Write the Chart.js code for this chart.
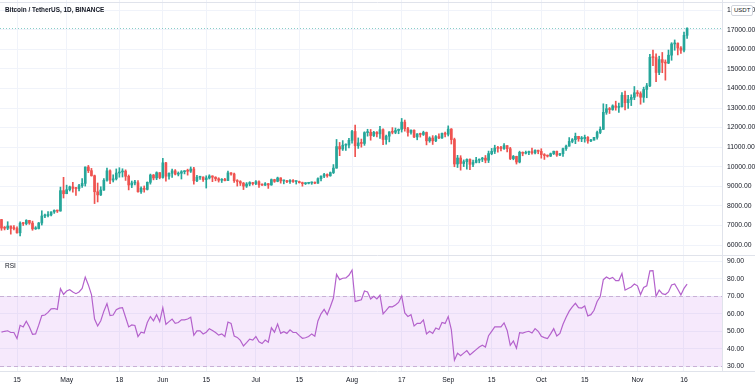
<!DOCTYPE html>
<html><head><meta charset="utf-8">
<script src="https://cdn.jsdelivr.net/npm/chart.js@4.4.0/dist/chart.umd.min.js"></script>
<style>
html,body{margin:0;padding:0;background:#fff;width:755px;height:390px;overflow:hidden}
#p{position:absolute;left:0;top:0;width:755px;height:256px}
#r{position:absolute;left:0;top:256px;width:755px;height:134px}
#title{position:absolute;left:5px;top:6px;font:bold 6.4px 'Liberation Sans',Arial,sans-serif;color:#131722;white-space:nowrap}
#rsiLbl{position:absolute;left:5px;top:262px;font:6.5px 'Liberation Sans',Arial,sans-serif;color:#131722}
#usdt{position:absolute;left:731px;top:5px;padding:1px 2px;background:#fff;border:1px solid #d1d4dc;border-radius:2px;font:6px 'Liberation Sans',Arial,sans-serif;color:#131722;line-height:7px}
</style></head><body>
<div id="p"><canvas id="cp"></canvas></div>
<div id="r"><canvas id="cr"></canvas></div>
<div id="title">Bitcoin / TetherUS, 1D, BINANCE</div>
<div id="rsiLbl">RSI</div>
<div id="usdt">USDT</div>
<script>
// Daily candles from 2020-04-10 (index 0) to 2020-11-17 (index 221)
const open = [7302,6865,6859,6971,6845,6842,6623,7116,7096,7257,7121,6826,6841,7125,7482,7505,7538,7693,7774,7738,
8778,8620,8826,8972,8894,8885,9031,9149,9986,9800,9539,8722,8561,8810,9309,9791,9316,9381,9681,9733,
9775,9511,9068,9170,9179,8720,8900,8841,9204,9575,9427,9697,9448,10200,9518,9666,9789,9621,9666,9746,
9782,9772,9885,9280,9465,9474,9342,9426,9526,9465,9386,9310,9358,9294,9686,9629,9288,9243,9162,9012,
9116,9192,9138,9232,9087,9058,9135,9069,9342,9253,9428,9277,9278,9236,9302,9243,9243,9187,9133,9154,
9171,9208,9160,9390,9518,9603,9538,9700,9931,11029,10906,11100,11111,11351,11801,11071,11219,11191,11744,11762,
11594,11761,11681,11892,11392,11564,11780,11760,11852,11911,12281,11945,11754,11866,11522,11681,11650,11751,11324,11467,
11323,11538,11470,11712,11660,11925,11388,10140,10446,10166,10256,10373,10126,10219,10336,10387,10440,10332,10671,10785,
10954,10939,10933,11080,10920,10417,10529,10241,10736,10686,10728,10775,10709,10844,10784,10619,10570,10542,10666,10792,
10599,10666,10925,11050,11296,11384,11555,11425,11429,11505,11319,11360,11503,11751,11910,12780,12968,12923,13111,13031,
13068,13654,13271,13437,13546,13781,13737,13550,13950,14133,15590,15579,14818,15475,15328,15297,15701,16276,16317,16068,
15955,16716];
const high = [7310,6944,7190,6971,6990,6929,7185,7152,7293,7263,7220,6940,7155,7750,7580,7705,7700,7795,7780,8960,
9460,9059,9010,9200,8950,9100,9395,9990,10067,9914,9574,9168,8978,9398,9930,9845,9588,9888,9950,9897,
9842,9578,9271,9307,9298,8979,9017,9225,9625,9605,9740,9700,10428,10228,9690,9881,9854,9735,9802,9800,
9877,9990,9964,9557,9494,9482,9538,9589,9540,9489,9438,9395,9413,9780,9700,9680,9340,9288,9196,9190,
9236,9200,9292,9274,9125,9190,9145,9375,9360,9470,9440,9317,9300,9340,9345,9279,9265,9214,9186,9200,
9225,9221,9427,9540,9664,9637,9732,10111,11394,11242,11336,11169,11456,11861,12123,11473,11414,11786,11915,11905,
11808,11797,12067,11935,11617,11792,12000,11980,11931,12468,12387,12020,11888,11889,11689,11718,11817,11774,11530,11590,
11595,11680,11720,11769,12089,11950,11462,10583,10565,10350,10398,10410,10344,10480,10400,10480,10575,10800,10937,11100,
11037,11037,11180,11083,10989,10577,10540,10795,10760,10800,10800,10956,10870,10850,10920,10670,10600,10700,10800,10800,
10680,10950,11104,11491,11442,11720,11557,11547,11617,11541,11402,11505,11820,12037,13217,13185,13027,13165,13350,13250,
13789,13863,13650,13677,14100,13895,13830,14066,14259,15750,15965,15765,15650,15840,15460,15965,16340,16480,16326,16142,
16880,17100];
const low = [6750,6770,6785,6555,6776,6605,6468,6997,7030,7055,6752,6795,6818,7020,7400,7432,7480,7615,7660,7725,
8401,8620,8760,8700,8531,8760,8940,9011,9700,9520,8117,8200,8528,8792,9256,9130,9220,9322,9464,9474,
9300,8815,8933,9070,8700,8632,8700,8811,9110,9330,9340,9381,9415,9266,9365,9450,9581,9531,9372,9633,
9570,9705,9113,9232,9351,9245,8910,9373,9237,9280,9215,9195,9277,9282,9570,9200,9010,9040,8833,8940,
9024,9064,9080,8940,9040,9040,8893,9053,9200,9230,9160,9125,9190,9150,9200,9113,9165,9005,9089,9121,
9100,9131,9150,9278,9437,9463,9513,9650,9920,10565,10831,10837,10965,11200,10518,10936,11000,11093,11562,11356,
11541,11521,11450,11125,11150,11270,11680,11687,11686,11770,11817,11561,11668,11480,11376,11514,11596,11117,11250,11138,
11280,11430,11450,11530,11570,11160,10000,9960,9825,10006,9875,9850,10000,10191,10200,10262,10200,10212,10612,10673,
10745,10812,10890,10762,10363,10354,10136,10196,10560,10650,10620,10645,10650,10663,10437,10374,10496,10520,10622,10530,
10560,10531,10828,11050,11223,11178,11300,11280,11255,11200,11283,11353,11411,11687,11900,12678,12720,12885,12888,12770,
13050,12900,12983,13125,13425,13600,13195,13292,13525,14093,15166,14344,14705,14805,14425,15270,15440,15952,15715,15793,
15870,16560];
const close = [6865,6859,6971,6845,6842,6623,7116,7096,7257,7121,6826,6841,7125,7482,7505,7538,7693,7774,7738,8778,
8620,8826,8972,8894,8885,9031,9149,9986,9800,9539,8722,8561,8810,9309,9791,9316,9381,9681,9733,9775,
9511,9068,9170,9179,8720,8900,8841,9204,9575,9427,9697,9448,10200,9518,9666,9789,9621,9666,9746,9782,
9772,9885,9280,9465,9474,9342,9426,9526,9465,9386,9310,9358,9294,9686,9629,9288,9243,9162,9012,9116,
9192,9138,9232,9087,9058,9135,9069,9342,9253,9428,9277,9278,9236,9302,9243,9243,9187,9133,9154,9171,
9208,9160,9390,9518,9603,9538,9700,9931,11029,10906,11100,11111,11351,11801,11071,11219,11191,11744,11762,11594,
11761,11681,11892,11392,11564,11780,11760,11852,11911,12281,11945,11754,11866,11522,11681,11650,11751,11324,11467,11323,
11538,11470,11712,11660,11925,11388,10140,10446,10166,10256,10373,10126,10219,10336,10387,10440,10332,10671,10785,10954,
10939,10933,11080,10920,10417,10529,10241,10736,10686,10728,10775,10709,10844,10784,10619,10570,10542,10666,10792,10599,
10666,10925,11050,11296,11384,11555,11425,11429,11505,11319,11360,11503,11751,11910,12780,12968,12923,13111,13031,13068,
13654,13271,13437,13546,13781,13737,13550,13950,14133,15590,15579,14818,15475,15328,15297,15701,16276,16317,16068,15955,
16716,17080];
const rsi = [49.5,50,50.3,49.3,49.3,45.8,53.4,52.5,55.7,52.5,
48.3,48.5,53.5,59,59.3,60.8,62.8,63,62.5,74.4,
71.1,73,73.8,72.5,71.5,72.5,74.5,81,76.5,71,
57,53,56,61.5,65.8,59,59.3,62.3,63.2,63.5,
58,52.5,53.6,53.3,47,49.5,49,55,58.4,56,
59.5,55.5,63.5,54,55.5,57,54.6,55,56.5,56.5,
57,58,47.7,50.2,50.3,48.5,49.5,51.5,50.5,49.3,
47.8,48.5,47,55.3,54.5,47.3,46.5,44.8,41.6,43.5,
45.5,45,47,44,43,45,43.8,52,49.5,54.2,
48.8,49.8,48.8,50.8,49.3,49.3,47.5,46,46.3,47,
48.5,47.2,55.9,60,62.5,59.5,64,69,82.5,79.5,
80.3,80.5,82,85,67,67.5,68,73,72.5,68.5,
70,68.5,70.6,60,62,64.1,64,65,66.5,70.2,
60.5,58.5,59.5,53,54.5,54.5,56.5,48.5,50,48.8,
51.9,51,55,54.5,58.4,51,33.5,37.5,36,37.5,
39,36.5,38,39.5,41,42,41,47.5,50,52.5,
52.5,52.5,54.8,50.5,42,44.5,40.3,49.2,49,49.6,
50,49,51.5,50,47.2,46.4,45.8,48.5,51.5,47.3,
48.8,54,58,61.5,64,66,63.5,63.3,64.5,58.8,
59.5,62,67,69.8,79.5,81,80,80.8,79,79,
83,73.5,74.5,75.3,77,76,71,75,76,84.5,
84.6,70,73.5,71.5,71,72.5,76.5,77,74,70.8,
74.5,77];
// x-axis tick positions (day index) and their labels
const tickDays   = [5,21,38,52,66,82,96,113,129,144,158,174,188,205,220];
const tickLabels = ['15','May','18','Jun','15','Jul','15','Aug','17','Sep','15','Oct','15','Nov','16'];
const priceTicks = [6000,7000,8000,9000,10000,11000,12000,13000,14000,15000,16000,17000,18000];
const rsiTicks   = [30,40,50,60,70,80,90];
const rsiUpper = 70, rsiLower = 30;

const UP = '#26a69a', DOWN = '#ef5350';
const FONT = "'Liberation Sans', Arial, sans-serif";
const GRID = '#f0f3fa';
const days = close.map((_, i) => i);
const colors = close.map((c, i) => c >= open[i] ? UP : DOWN);

function xScale(show) {
  return {
    type: 'linear', min: -0.48, max: 232.25, offset: false,
    afterBuildTicks: s => { s.ticks = tickDays.map(v => ({value: v})); },
    ticks: { display: show, autoSkip: false, maxRotation: 0, padding: 5, color: '#131722',
      font: {family: FONT, size: 6.8}, callback: (v, i) => tickLabels[i] },
    grid: { color: GRID, drawTicks: false, offset: false },
    border: { display: false },
    afterFit: s => { s.height = show ? 19 : 0; s.paddingLeft = 0; s.paddingRight = 0; }
  };
}
function yScale(min, max, ticks) {
  return {
    type: 'linear', position: 'right', min, max,
    afterBuildTicks: s => { s.ticks = ticks.map(v => ({value: v})); },
    ticks: { padding: 5, color: '#131722', font: {family: FONT, size: 6.8}, callback: v => v.toFixed(2) },
    grid: { color: GRID, drawTicks: false },
    border: { display: true, color: '#e0e3eb' },
    afterFit: s => { s.width = 33; s.paddingTop = 0; s.paddingBottom = 0; }
  };
}

const pricePlugin = {
  id: 'pricePlugin',
  afterDatasetsDraw(chart) {
    const {ctx, chartArea: a, scales} = chart;
    const y = Math.round(scales.y.getPixelForValue(close[close.length - 1])) + 0.5;
    ctx.save();
    ctx.strokeStyle = 'rgba(38,166,154,0.55)';
    ctx.lineWidth = 1;
    ctx.setLineDash([1, 2]);
    ctx.beginPath(); ctx.moveTo(a.left, y); ctx.lineTo(a.right, y); ctx.stroke();
    ctx.setLineDash([]);
    ctx.strokeStyle = '#e0e3eb';
    ctx.beginPath(); ctx.moveTo(0, a.bottom - 0.5); ctx.lineTo(chart.width, a.bottom - 0.5); ctx.stroke();
    ctx.beginPath(); ctx.moveTo(0, 2.5); ctx.lineTo(chart.width, 2.5); ctx.stroke();
    ctx.restore();
  }
};

new Chart(document.getElementById('cp'), {
  type: 'bar',
  data: {
    datasets: [
      { data: days.map(i => ({x: i, y: [low[i], high[i]]})), backgroundColor: colors,
        barThickness: 1, grouped: false, order: 2 },
      { data: days.map(i => ({x: i, y: [open[i], close[i]]})), backgroundColor: colors,
        barThickness: 2, minBarLength: 1, grouped: false, order: 1 }
    ]
  },
  options: {
    responsive: true, maintainAspectRatio: false, animation: false,
    layout: { padding: 0 },
    plugins: { legend: {display: false}, tooltip: {enabled: false} },
    scales: { x: xScale(false), y: yScale(5438, 18521, priceTicks) }
  },
  plugins: [pricePlugin]
});

const rsiPlugin = {
  id: 'rsiPlugin',
  beforeDatasetsDraw(chart) {
    const {ctx, chartArea: a, scales} = chart;
    const yu = scales.y.getPixelForValue(rsiUpper), yl = scales.y.getPixelForValue(rsiLower);
    ctx.save();
    ctx.fillStyle = 'rgba(198,120,235,0.16)';
    ctx.fillRect(a.left, yu, a.right - a.left, yl - yu);
    ctx.strokeStyle = '#c8b0d6';
    ctx.lineWidth = 1;
    ctx.setLineDash([4, 3]);
    [yu, yl].forEach(y => {
      const yy = Math.round(y) + 0.5;
      ctx.beginPath(); ctx.moveTo(a.left, yy); ctx.lineTo(a.right, yy); ctx.stroke();
    });
    ctx.restore();
  },
  afterDraw(chart) {
    const {ctx, chartArea: a} = chart;
    ctx.save();
    ctx.strokeStyle = '#e0e3eb';
    ctx.beginPath(); ctx.moveTo(0, a.bottom + 0.5); ctx.lineTo(chart.width, a.bottom + 0.5); ctx.stroke();
    ctx.restore();
  }
};

new Chart(document.getElementById('cr'), {
  type: 'line',
  data: {
    datasets: [
      { data: days.map(i => ({x: i, y: rsi[i]})), borderColor: '#b462cc', borderWidth: 1.2,
        pointRadius: 0, tension: 0, fill: false }
    ]
  },
  options: {
    responsive: true, maintainAspectRatio: false, animation: false,
    layout: { padding: 0 },
    plugins: { legend: {display: false}, tooltip: {enabled: false} },
    scales: { x: xScale(true), y: yScale(27.3, 93.03, rsiTicks) }
  },
  plugins: [rsiPlugin]
});
</script>
</body></html>
